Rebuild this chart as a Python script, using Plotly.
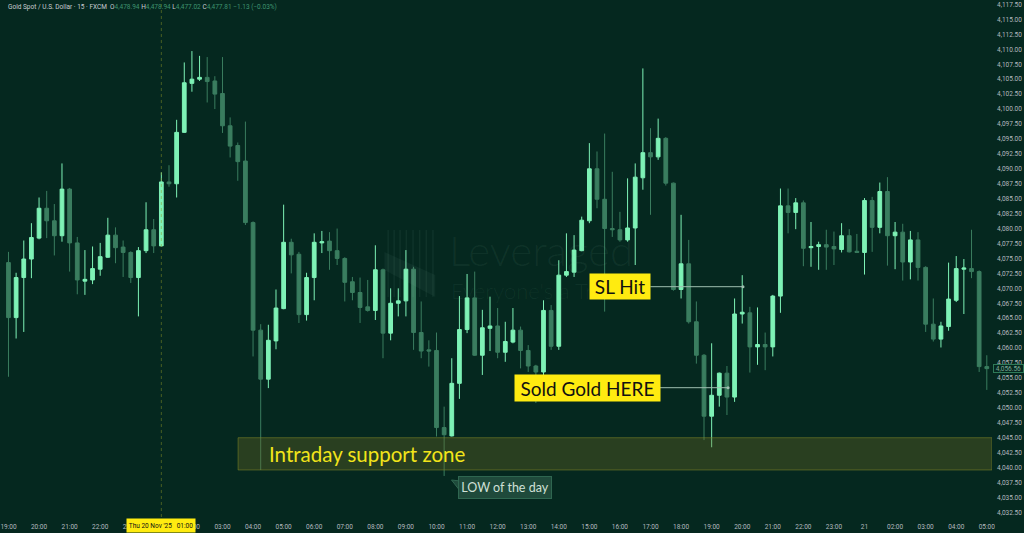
import plotly.graph_objects as go
import pandas as pd

# ---------------- data (XAUUSD 15m, FXCM) ----------------
opens = [
    4074.3, 4065.1, 4071.8, 4074.9, 4078.4, 4083.4, 4081.3, 4078.8, 4086.6, 4077.6,
    4071.2, 4071.4, 4073.2, 4075.2, 4078.9, 4076.9, 4076.0, 4071.8, 4076.3, 4079.8,
    4077.1, 4087.8, 4087.5, 4096.1, 4104.3, 4105.0, 4105.3, 4104.7, 4102.6, 4097.2,
    4093.9, 4091.3, 4081.0, 4063.0, 4054.8, 4061.2, 4066.6, 4077.7, 4075.7, 4065.6,
    4071.8, 4077.6, 4077.9, 4076.3, 4075.0, 4071.1, 4069.3, 4066.9, 4066.3, 4073.1,
    4062.5, 4067.5, 4067.9, 4073.2, 4062.6, 4059.7, 4059.6, 4046.7, 4045.3, 4054.1,
    4063.1, 4068.4, 4058.8, 4063.3, 4063.7, 4059.3, 4061.0, 4063.0, 4059.6, 4057.0,
    4056.0, 4066.3, 4060.3, 4072.2, 4072.7, 4076.3, 4081.3, 4090.0, 4084.9, 4080.0,
    4079.8, 4078.1, 4080.1, 4088.5, 4092.7, 4092.0, 4095.1, 4087.6, 4069.8, 4074.1,
    4064.4, 4058.8, 4048.6, 4052.1, 4055.8, 4051.8, 4065.7, 4065.9, 4060.2, 4060.6,
    4060.2, 4068.7, 4083.8, 4082.7, 4084.3, 4076.8, 4077.0, 4077.3, 4077.0, 4076.5,
    4078.8, 4076.2, 4076.0, 4084.7, 4080.2, 4086.2, 4078.8, 4079.4, 4074.4, 4078.1,
    4073.5, 4064.0, 4061.5, 4063.6, 4068.0, 4073.2, 4073.3, 4072.8, 4056.9,
]
highs = [
    4076.1, 4072.6, 4078.0, 4080.9, 4085.2, 4086.3, 4084.1, 4090.9, 4086.8, 4078.6,
    4076.4, 4077.0, 4077.6, 4081.8, 4080.2, 4078.0, 4076.2, 4076.9, 4084.4, 4081.6,
    4089.4, 4090.6, 4098.2, 4107.8, 4109.7, 4108.9, 4108.7, 4105.5, 4108.7, 4098.6,
    4094.4, 4097.9, 4081.2, 4064.0, 4063.9, 4069.8, 4084.0, 4078.3, 4076.1, 4072.6,
    4079.2, 4079.6, 4079.4, 4080.0, 4075.2, 4071.9, 4071.8, 4071.4, 4077.2, 4073.3,
    4070.0, 4070.0, 4076.4, 4073.6, 4067.8, 4061.3, 4062.6, 4050.2, 4058.3, 4068.7,
    4072.4, 4072.8, 4066.4, 4068.6, 4066.7, 4064.4, 4066.7, 4063.6, 4060.5, 4057.2,
    4068.0, 4067.2, 4074.7, 4079.2, 4078.9, 4082.0, 4094.3, 4092.9, 4095.9, 4089.5,
    4082.8, 4088.4, 4090.9, 4106.8, 4096.8, 4098.4, 4095.3, 4087.7, 4082.3, 4078.1,
    4067.8, 4059.0, 4060.8, 4055.9, 4057.0, 4068.3, 4072.2, 4066.9, 4066.8, 4062.6,
    4068.9, 4086.7, 4086.7, 4085.1, 4084.7, 4081.1, 4077.8, 4079.8, 4079.5, 4080.9,
    4079.9, 4079.1, 4085.1, 4085.3, 4087.7, 4088.6, 4081.1, 4080.8, 4079.6, 4079.4,
    4073.7, 4068.3, 4064.4, 4074.3, 4075.4, 4074.9, 4079.8, 4073.0, 4058.8,
]
lows = [
    4055.2, 4061.6, 4062.7, 4071.7, 4078.2, 4078.4, 4075.5, 4077.8, 4072.8, 4069.0,
    4068.9, 4070.7, 4072.1, 4075.1, 4074.2, 4071.9, 4070.9, 4065.3, 4075.9, 4075.9,
    4077.0, 4087.0, 4085.2, 4096.0, 4102.9, 4104.7, 4101.1, 4100.0, 4096.0, 4091.9,
    4088.0, 4080.6, 4058.6, 4039.6, 4053.3, 4059.8, 4066.5, 4072.5, 4064.2, 4064.6,
    4068.0, 4075.9, 4073.1, 4073.9, 4067.8, 4068.0, 4064.2, 4066.1, 4064.7, 4058.3,
    4061.3, 4065.3, 4065.3, 4059.7, 4058.3, 4056.9, 4045.2, 4038.6, 4045.2, 4051.5,
    4062.5, 4058.7, 4055.5, 4059.5, 4058.3, 4057.7, 4060.8, 4056.6, 4056.0, 4050.8,
    4054.9, 4059.7, 4059.7, 4071.9, 4071.9, 4076.2, 4080.9, 4083.4, 4066.1, 4078.6,
    4077.8, 4077.8, 4073.9, 4086.5, 4082.3, 4091.5, 4087.2, 4069.6, 4068.3, 4064.1,
    4057.4, 4044.6, 4043.4, 4050.2, 4048.8, 4051.0, 4064.1, 4055.9, 4057.2, 4056.3,
    4058.6, 4065.9, 4079.2, 4079.9, 4073.7, 4073.6, 4073.1, 4073.1, 4073.9, 4076.0,
    4076.0, 4075.9, 4072.3, 4076.1, 4079.2, 4073.8, 4073.2, 4071.3, 4071.5, 4071.3,
    4062.7, 4061.1, 4060.1, 4062.9, 4067.7, 4065.7, 4071.7, 4056.0, 4053.0,
]
closes = [
    4065.1, 4071.8, 4074.9, 4078.5, 4083.4, 4081.3, 4078.8, 4086.6, 4077.6, 4071.4,
    4071.5, 4073.3, 4075.3, 4078.9, 4076.8, 4076.0, 4071.8, 4076.3, 4079.8, 4077.1,
    4087.8, 4087.5, 4096.1, 4104.4, 4105.0, 4105.3, 4104.6, 4102.5, 4097.2, 4093.8,
    4091.2, 4081.0, 4063.0, 4054.8, 4061.3, 4066.7, 4077.7, 4075.6, 4065.6, 4071.8,
    4077.7, 4077.8, 4076.3, 4075.0, 4071.0, 4069.3, 4066.8, 4066.3, 4073.1, 4062.5,
    4067.5, 4067.9, 4073.2, 4062.6, 4059.5, 4059.5, 4046.7, 4045.5, 4054.1, 4063.1,
    4068.4, 4058.8, 4063.4, 4063.7, 4059.3, 4061.1, 4063.0, 4059.6, 4057.0, 4056.0,
    4066.3, 4060.3, 4072.2, 4072.8, 4076.4, 4081.4, 4090.0, 4084.9, 4080.0, 4079.8,
    4078.1, 4080.1, 4088.6, 4092.7, 4092.0, 4095.1, 4087.6, 4069.8, 4074.1, 4064.4,
    4058.8, 4048.6, 4052.1, 4055.8, 4051.8, 4065.7, 4066.0, 4060.2, 4060.6, 4060.2,
    4068.7, 4083.8, 4082.7, 4084.3, 4076.7, 4077.0, 4077.3, 4076.9, 4076.6, 4078.8,
    4076.1, 4076.0, 4084.7, 4080.2, 4086.2, 4078.8, 4079.4, 4074.4, 4078.1, 4073.5,
    4064.0, 4061.5, 4063.7, 4068.2, 4073.3, 4073.4, 4072.8, 4056.9, 4056.56,
]

# bar timestamps (15-minute bars, daily break 00:00-01:00)
all_slots = pd.date_range("2025-11-19 19:00", "2025-11-21 05:00", freq="15min")
times = [t.strftime("%Y-%m-%d %H:%M") for t in all_slots if t.hour != 0][: len(opens)]

# hour labels on the time axis (the day-20 open is shown by the highlighted label)
hour_labels = ["19:00", "20:00", "21:00", "22:00", "23:00",
               "", "02:00", "03:00", "04:00", "05:00", "06:00", "07:00", "08:00",
               "09:00", "10:00", "11:00", "12:00", "13:00", "14:00", "15:00", "16:00",
               "17:00", "18:00", "19:00", "20:00", "21:00", "22:00", "23:00",
               "21", "02:00", "03:00", "04:00", "05:00"]
hour_ticks = [t for t in times if t.endswith(":00")]

price_ticks = [4032.5 + 2.5 * k for k in range(35)]

support_low, support_high = 4039.6, 4045.0
sl_price = 4070.27
sell_price = 4053.37
last_price = closes[-1]

BG = "#05281f"
BULL = "#7ef2b6"
BEAR = "#3a7d5f"
YEL = "#ffeb10"
AX = "#b4b9bf"

fig = go.Figure()
fig.add_trace(go.Candlestick(
    x=times, open=opens, high=highs, low=lows, close=closes,
    increasing=dict(line=dict(color=BULL, width=1), fillcolor=BULL),
    decreasing=dict(line=dict(color=BEAR, width=1), fillcolor=BEAR),
    whiskerwidth=0, hoverinfo="skip", showlegend=False,
))

idx_x0, idx_x1 = -0.586, 128.68
shapes = []
annotations = []

# watermark
annotations.append(dict(xref="paper", yref="paper", x=445 / 992, y=1 - 250 / 517,
                        xanchor="left", yanchor="middle", showarrow=False,
                        text="Leveraged", font=dict(family="Lato", size=42, weight=300,
                                                    color="rgba(150,200,180,0.07)")))
annotations.append(dict(xref="paper", yref="paper", x=447 / 992, y=1 - 290 / 517,
                        xanchor="left", yanchor="middle", showarrow=False,
                        text="Everyone's a Trader", font=dict(family="Lato", size=22, weight=300,
                                                              color="rgba(150,200,180,0.07)")))
for px in [385.7, 391.7, 397.7, 404, 410.7, 417.3, 424, 430.7]:
    shapes.append(dict(type="line", xref="paper", yref="paper", x0=px / 992, x1=px / 992,
                       y0=1 - 230 / 517, y1=1 - 297 / 517,
                       line=dict(color="rgba(150,200,180,0.07)", width=1.5)))
shapes.append(dict(type="path", xref="paper", yref="paper",
                   path="M %f %f L %f %f L %f %f L %f %f Z" % (
                       382 / 992, 1 - 252 / 517, 433 / 992, 1 - 275 / 517,
                       433 / 992, 1 - 297 / 517, 382 / 992, 1 - 270 / 517),
                   fillcolor="rgba(150,200,180,0.06)", line=dict(width=0)))

# crosshair
shapes.append(dict(type="line", xref="x", yref="paper", x0=20, x1=20, y0=0, y1=1,
                   line=dict(color="rgba(140,150,40,0.5)", width=1, dash="dot")))

# support zone
shapes.append(dict(type="rect", xref="x", yref="y", x0=30.04, x1=idx_x1,
                   y0=support_low, y1=support_high,
                   fillcolor="rgba(110,105,35,0.35)",
                   line=dict(color="rgba(130,135,40,0.55)", width=1)))
annotations.append(dict(xref="x", yref="y", x=33.85, y=(support_low + support_high) / 2,
                        xanchor="left", yanchor="middle", showarrow=False,
                        text="Intraday support zone",
                        font=dict(family="Lato", size=20.5, color="#f2e41a")))

# SL Hit
shapes.append(dict(type="line", xref="x", yref="y", x0=83.98, x1=96.1,
                   y0=sl_price, y1=sl_price, line=dict(color="#9fbfb0", width=1)))
shapes.append(dict(type="circle", xref="x", yref="y", xsizemode="pixel", ysizemode="pixel",
                   xanchor=96.1, yanchor=sl_price, x0=-1.5, x1=1.5, y0=-1.5, y1=1.5,
                   fillcolor="#9fbfb0", line=dict(width=0)))
annotations.append(dict(xref="x", yref="y", x=80.07, y=sl_price, showarrow=False,
                        xanchor="center", yanchor="middle", text="SL Hit",
                        bgcolor=YEL, width=60, height=25, borderpad=0,
                        font=dict(family="Lato", size=19, color="#111111")))

# Sold Gold HERE
shapes.append(dict(type="line", xref="x", yref="y", x0=85.03, x1=94.15,
                   y0=sell_price, y1=sell_price, line=dict(color="#9fbfb0", width=1)))
shapes.append(dict(type="circle", xref="x", yref="y", xsizemode="pixel", ysizemode="pixel",
                   xanchor=94.15, yanchor=sell_price, x0=-1.5, x1=1.5, y0=-1.5, y1=1.5,
                   fillcolor="#9fbfb0", line=dict(width=0)))
annotations.append(dict(xref="x", yref="y", x=75.71, y=sell_price, showarrow=False,
                        xanchor="center", yanchor="middle", text="Sold Gold HERE",
                        bgcolor=YEL, width=145, height=26, borderpad=0,
                        font=dict(family="Lato", size=19, color="#111111")))

# LOW of the day bubble
shapes.append(dict(type="path", xref="paper", yref="paper",
                   path="M %f %f L %f %f L %f %f Z" % (
                       449.3 / 992, 1 - 480 / 517, 458 / 992, 1 - 481 / 517,
                       458 / 992, 1 - 491 / 517),
                   fillcolor="#1f4a3b", line=dict(color="#2f6650", width=1)))
annotations.append(dict(xref="x", yref="y", x=65.0, y=4036.75, showarrow=False,
                        xanchor="center", yanchor="middle", text="LOW of the day",
                        bgcolor="#1f4a3b", bordercolor="#2f6650", borderwidth=1,
                        width=92, height=21, borderpad=0,
                        font=dict(family="Lato", size=12.5, color="#cfe0d7")))

# header
hv = "#3f9470"
hl = "#c9cdd2"
header = (f"<span style='color:{hl}'>Gold Spot / U.S. Dollar · 15 · FXCM</span>  "
          f"<span style='color:{hl}'>O</span><span style='color:{hv}'>4,478.94</span> "
          f"<span style='color:{hl}'>H</span><span style='color:{hv}'>4,478.94</span> "
          f"<span style='color:{hl}'>L</span><span style='color:{hv}'>4,477.02</span> "
          f"<span style='color:{hl}'>C</span><span style='color:{hv}'>4,477.81</span> "
          f"<span style='color:{hv}'>−1.13 (−0.03%)</span>")
annotations.append(dict(xref="paper", yref="paper", x=0, y=1, xanchor="left", yanchor="top",
                        xshift=2, yshift=-1, showarrow=False, text=header,
                        font=dict(family="Roboto", size=6.5, color=hl)))

# highlighted time label
annotations.append(dict(xref="x", yref="paper", x=20, y=0, xanchor="center", yanchor="top",
                        yshift=-1, showarrow=False, text="Thu 20 Nov '25   01:00",
                        bgcolor=YEL, width=68, height=13, borderpad=0,
                        font=dict(family="Roboto", size=6.5, color="#111111")))

# last price label
annotations.append(dict(xref="paper", yref="y", x=1, y=last_price, xanchor="left",
                        yanchor="middle", showarrow=False, text=f"{last_price:,.2f}",
                        bgcolor=BG, bordercolor="#2e7a58", borderwidth=1, borderpad=0,
                        width=29, height=7, xshift=1,
                        font=dict(family="Roboto", size=6.5, color="#7fa898")))

fig.update_layout(
    width=1024, height=533, autosize=False,
    margin=dict(l=0, r=32, t=0, b=16, pad=0),
    paper_bgcolor=BG, plot_bgcolor=BG,
    boxgap=0.3,
    shapes=shapes, annotations=annotations,
    hovermode=False,
    xaxis=dict(type="category", range=[idx_x0, idx_x1], rangeslider=dict(visible=False),
               showgrid=False, zeroline=False, showline=False, ticks="",
               tickmode="array", tickvals=hour_ticks, ticktext=hour_labels,
               tickfont=dict(family="Roboto", size=6.5, color=AX), ticklabelstandoff=4),
    yaxis=dict(side="right", range=[4031.73, 4118.25], showgrid=False, zeroline=False,
               showline=False, ticks="", tickmode="array", tickvals=price_ticks,
               tickformat=",.2f", tickfont=dict(family="Roboto", size=6.5, color=AX),
               ticklabelstandoff=4),
)

fig.write_html("out.html", config={"displayModeBar": False},
               post_script="document.body.style.margin='0';document.body.style.padding='0';"
                           "document.body.style.background='" + BG + "';")
